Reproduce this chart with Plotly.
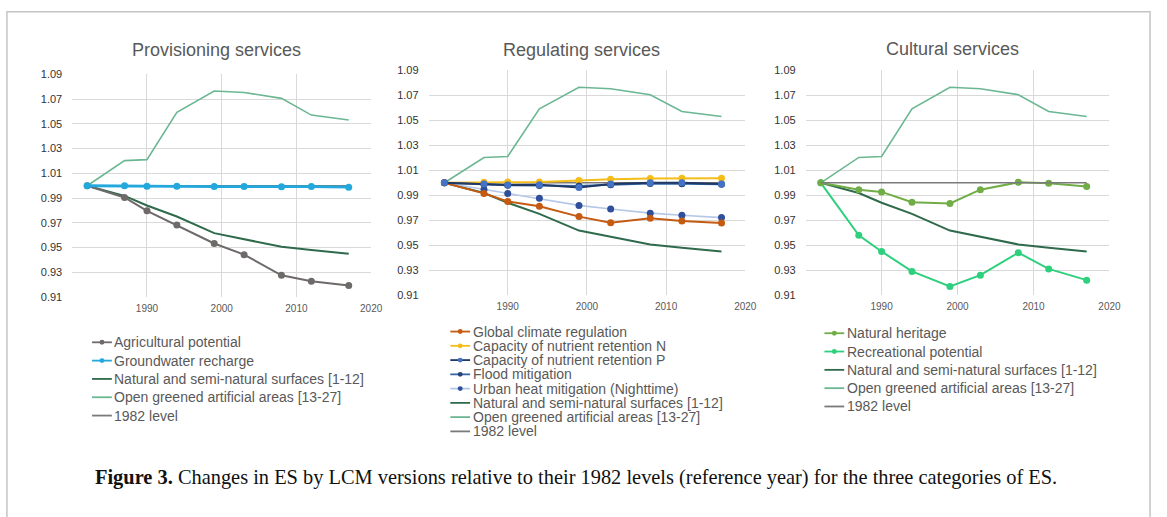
import plotly.graph_objects as go

W, H = 1167, 517

# ---------------- data ----------------
years = [1982, 1987, 1990, 1994, 1999, 2003, 2008, 2012, 2017]

# shared reference series
natural_surfaces = [1.000, 0.9918, 0.9840, 0.9751, 0.9617, 0.9569, 0.9506, 0.9480, 0.9450]
open_greened = [1.000, 1.0203, 1.0211, 1.0593, 1.0766, 1.0754, 1.0706, 1.0571, 1.0531]
level_1982 = [1.000, 1.000, 1.000, 1.000, 1.000, 1.000, 1.000, 1.000, 1.000]

# provisioning
agricultural = [1.000, 0.9905, 0.9797, 0.9682, 0.9533, 0.9443, 0.9276, 0.9228, 0.9193]
groundwater = [1.000, 1.0000, 0.9995, 0.9995, 0.9993, 0.9994, 0.9992, 0.9993, 0.9988]

# regulating
global_climate = [1.000, 0.9915, 0.9850, 0.9812, 0.9729, 0.9680, 0.9716, 0.9693, 0.9677]
nutrient_n = [1.000, 1.0005, 1.0007, 1.0007, 1.0019, 1.0029, 1.0034, 1.0036, 1.0036]
nutrient_p = [1.000, 0.9990, 0.9983, 0.9985, 0.9963, 0.9990, 1.0000, 1.0000, 0.9990]
flood = [1.000, 0.9988, 0.9980, 0.9978, 0.9975, 0.9985, 0.9995, 0.9993, 0.9988]
urban_heat = [1.000, 0.9946, 0.9915, 0.9876, 0.9819, 0.9790, 0.9757, 0.9740, 0.9721]

# cultural
natural_heritage = [1.000, 0.9945, 0.9927, 0.9845, 0.9835, 0.9945, 1.0004, 0.9996, 0.9970]
recreational = [1.000, 0.958, 0.945, 0.929, 0.917, 0.926, 0.944, 0.931, 0.922]

panel_titles = ["Provisioning services", "Regulating services", "Cultural services"]
x_tick_vals = [1980, 1990, 2000, 2010, 2020]
x_tick_text = ["", "1990", "2000", "2010", "2020"]
caption = ("<b>Figure 3.</b> Changes in ES by LCM versions relative to their 1982 levels "
           "(reference year) for the three categories of ES.")

# ---------------- styles ----------------
C_NAT = "#2f6a4c"
C_OPEN = "#6bb792"
C_LVL = "#7a7a7a"
C_AGR = "#6f6a6a"
C_GW = "#22a8dd"
C_GCR = "#c55a11"
C_N = "#f5bd18"
C_P_LINE, C_P_MK = "#1f3864", "#4472c4"
C_FL_LINE, C_FL_MK = "#3566a8", "#264478"
C_UH_LINE, C_UH_MK = "#b4c7e7", "#2f4f9a"
C_NH = "#70ad47"
C_REC = "#2ed07e"

SANS = "Liberation Sans, Arial, sans-serif"
SERIF = "Liberation Serif, Times New Roman, serif"


def px(x):
    return x / W


def py(y):
    return 1 - y / H


# plot areas (pixels): left, right, top, bottom
areas = [(73, 375, 70, 298), (433, 753, 66, 296), (814, 1121, 66, 296)]

fig = go.Figure()


def line(axis_i, yvals, lcolor, width, mcolor=None, msize=7):
    xa = "x" if axis_i == 1 else f"x{axis_i}"
    ya = "y" if axis_i == 1 else f"y{axis_i}"
    mode = "lines+markers" if mcolor else "lines"
    fig.add_trace(go.Scatter(
        x=years, y=yvals, mode=mode, xaxis=xa, yaxis=ya, showlegend=False,
        line=dict(color=lcolor, width=width),
        marker=dict(color=mcolor or lcolor, size=msize),
        hoverinfo="x+y"))


# panel 1
line(1, level_1982, C_LVL, 1.6)
line(1, natural_surfaces, C_NAT, 2)
line(1, open_greened, C_OPEN, 1.6)
line(1, agricultural, C_AGR, 2, C_AGR)
line(1, groundwater, C_GW, 2.8, C_GW)

# panel 2
line(2, level_1982, C_LVL, 1.6)
line(2, natural_surfaces, C_NAT, 2)
line(2, open_greened, C_OPEN, 1.6)
line(2, urban_heat, C_UH_LINE, 1.6, C_UH_MK)
line(2, global_climate, C_GCR, 2, C_GCR)
line(2, nutrient_n, C_N, 2, C_N)
line(2, flood, C_FL_LINE, 2, C_FL_MK)
line(2, nutrient_p, C_P_LINE, 2, C_P_MK)

# panel 3
line(3, natural_surfaces, C_NAT, 2)
line(3, open_greened, C_OPEN, 1.6)
line(3, recreational, C_REC, 2, C_REC)
line(3, natural_heritage, C_NH, 2, C_NH)
line(3, level_1982, C_LVL, 1.6)

layout = dict(
    width=W, height=H, autosize=False, margin=dict(l=0, r=0, t=0, b=0, pad=0),
    paper_bgcolor="white", plot_bgcolor="white", showlegend=False,
)
for i, (l, r, t, b) in enumerate(areas, start=1):
    sfx = "" if i == 1 else str(i)
    layout[f"xaxis{sfx}"] = dict(
        domain=[px(l), px(r)], anchor=f"y{sfx}", range=[1980, 2020],
        tickmode="array", tickvals=x_tick_vals, ticktext=x_tick_text,
        showgrid=True, gridcolor="#d9d9d9", gridwidth=1, zeroline=False,
        showline=False, ticks="", ticklabelstandoff=4,
        tickfont=dict(family=SANS, size=10, color="#595959"), fixedrange=True)
    layout[f"yaxis{sfx}"] = dict(
        domain=[py(b), py(t)], anchor=f"x{sfx}", range=[0.91, 1.09],
        tick0=0.91, dtick=0.02, tickformat=".2f",
        showgrid=True, gridcolor="#d9d9d9", gridwidth=1, zeroline=False,
        showline=False, ticks="", ticklabelstandoff=9,
        tickfont=dict(family=SANS, size=11, color="#333333"), fixedrange=True)
fig.update_layout(**layout)

# titles
title_pos = [(219, 45), (588, 45), (962, 44)]
for (tx, ty), txt in zip(title_pos, panel_titles):
    fig.add_annotation(text=txt, x=px(tx), y=py(ty), xref="paper", yref="paper",
                       xanchor="center", yanchor="middle", showarrow=False,
                       font=dict(family=SANS, size=18, color="#595959"))

# legends (drawn as layout decorations)
legends = [
    (93, 344.3, 18.75, [
        ("Agricultural potential", C_AGR, C_AGR),
        ("Groundwater recharge", C_GW, C_GW),
        ("Natural and semi-natural surfaces [1-12]", C_NAT, None),
        ("Open greened artificial areas [13-27]", C_OPEN, None),
        ("1982 level", C_LVL, None)]),
    (455, 333.3, 14.6, [
        ("Global climate regulation", C_GCR, C_GCR),
        ("Capacity of nutrient retention N", C_N, C_N),
        ("Capacity of nutrient retention P", C_P_LINE, C_P_MK),
        ("Flood mitigation", C_FL_LINE, C_FL_MK),
        ("Urban heat mitigation (Nighttime)", C_UH_LINE, C_UH_MK),
        ("Natural and semi-natural surfaces [1-12]", C_NAT, None),
        ("Open greened artificial areas [13-27]", C_OPEN, None),
        ("1982 level", C_LVL, None)]),
    (833, 335, 18.75, [
        ("Natural heritage", C_NH, C_NH),
        ("Recreational potential", C_REC, C_REC),
        ("Natural and semi-natural surfaces [1-12]", C_NAT, None),
        ("Open greened artificial areas [13-27]", C_OPEN, None),
        ("1982 level", C_LVL, None)]),
]
for x0, y0, dy, entries in legends:
    for k, (name, lc, mc) in enumerate(entries):
        yy = y0 + k * dy
        fig.add_shape(type="line", xref="paper", yref="paper",
                      x0=px(x0), x1=px(x0 + 20), y0=py(yy), y1=py(yy),
                      line=dict(color=lc, width=1.8))
        if mc:
            fig.add_shape(type="circle", xref="paper", yref="paper",
                          x0=px(x0 + 7.5), x1=px(x0 + 12.5),
                          y0=py(yy + 2.5), y1=py(yy - 2.5),
                          fillcolor=mc, line=dict(color=mc, width=0))
        fig.add_annotation(text=name, x=px(x0 + 20.5), y=py(yy), xref="paper", yref="paper",
                           xanchor="left", yanchor="middle", showarrow=False,
                           font=dict(family=SANS, size=14, color="#595959"))

# caption
fig.add_annotation(text=caption, x=px(582), y=py(483), xref="paper", yref="paper",
                   xanchor="center", yanchor="middle", showarrow=False,
                   font=dict(family=SERIF, size=20.4, color="#111111"))

# outer frame
fig.add_shape(type="rect", xref="paper", yref="paper",
              x0=px(7), x1=px(1162), y0=py(530), y1=py(6),
              line=dict(color="#c4c4c4", width=1.5), fillcolor="rgba(0,0,0,0)", layer="below")

fig.write_html("out.html", config={"displayModeBar": False, "responsive": False},
               post_script="document.body.style.margin='0px';document.body.style.overflow='hidden';")
